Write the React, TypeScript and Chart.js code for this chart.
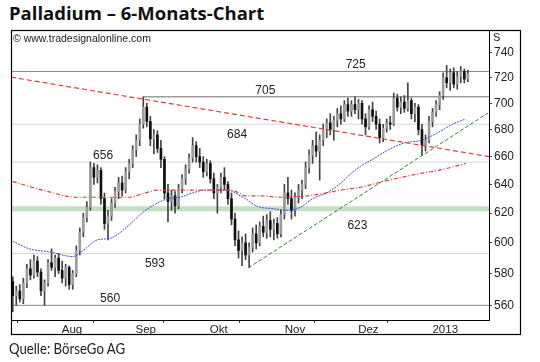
import React, { useEffect, useRef } from "react";
import { Chart, registerables } from "chart.js";

Chart.register(...registerables);

// ---- Data ----
const openP = [
  575, 566, 569, 564, 574, 583, 579, 588, 581, 569,
  574, 587, 584, 590, 582, 577, 584, 573, 580, 595,
  607, 617, 624, 652, 645, 650, 630, 613, 618, 627,
  635, 641, 636, 649, 655, 665, 672, 684, 697, 686,
  673, 676, 666, 658, 634, 628, 632, 625, 637, 644,
  651, 659, 668, 660, 656, 649, 655, 644, 634, 638,
  645, 640, 630, 616, 602, 595, 600, 592, 597, 606,
  600, 611, 607, 615, 609, 613, 606, 619, 634, 630,
  622, 631, 636, 640, 652, 661, 668, 664, 672, 680,
  685, 680, 687, 692, 688, 699, 694, 699, 695, 700,
  688, 682, 695, 690, 684, 674, 681, 685, 684, 704,
  697, 701, 696, 702, 692, 697, 680, 668, 672, 686,
  693, 699, 706, 720, 716, 724, 715, 721, 725, 719,
];
const highP = [
  578, 572, 573, 577, 586, 589, 592, 591, 583, 576,
  589, 596, 592, 593, 588, 586, 585, 582, 598, 610,
  620, 628, 656, 655, 654, 652, 634, 622, 630, 638,
  645, 646, 652, 658, 668, 676, 688, 705, 700, 690,
  680, 679, 672, 660, 640, 636, 635, 640, 647, 654,
  662, 674, 671, 666, 660, 658, 657, 648, 640, 648,
  652, 642, 634, 620, 608, 604, 606, 600, 610, 612,
  614, 618, 619, 621, 616, 617, 622, 640, 645, 636,
  634, 640, 643, 656, 665, 672, 678, 676, 684, 688,
  692, 690, 696, 698, 702, 704, 702, 705, 703, 702,
  692, 698, 701, 694, 688, 684, 688, 690, 708, 707,
  705, 706, 716, 704, 700, 699, 684, 676, 690, 696,
  702, 709, 724, 730, 727, 728, 725, 729, 727, 726,
];
const lowP = [
  556, 560, 562, 561, 571, 576, 577, 578, 566, 560,
  572, 582, 578, 580, 574, 572, 570, 570, 578, 592,
  604, 614, 622, 640, 641, 626, 609, 602, 615, 624,
  630, 632, 634, 644, 652, 660, 668, 681, 682, 668,
  662, 663, 652, 630, 614, 622, 620, 623, 634, 640,
  648, 656, 656, 652, 645, 646, 641, 630, 620, 634,
  636, 626, 612, 598, 590, 585, 589, 584, 594, 596,
  598, 604, 603, 604, 602, 603, 604, 616, 626, 616,
  618, 627, 630, 637, 648, 655, 660, 643, 668, 674,
  676, 672, 682, 684, 686, 690, 690, 692, 688, 684,
  676, 680, 686, 680, 670, 671, 678, 680, 683, 694,
  692, 693, 694, 688, 686, 676, 661, 664, 670, 682,
  690, 695, 703, 712, 710, 712, 711, 716, 716, 717,
];
const closeP = [
  566, 569, 564, 574, 583, 579, 588, 581, 569, 574,
  587, 584, 590, 582, 577, 584, 573, 580, 595, 607,
  617, 624, 652, 645, 650, 630, 613, 618, 627, 635,
  641, 636, 649, 655, 665, 672, 684, 697, 686, 673,
  676, 666, 658, 634, 628, 632, 625, 637, 644, 651,
  659, 668, 660, 656, 649, 655, 644, 634, 638, 645,
  640, 630, 616, 602, 595, 600, 592, 597, 606, 600,
  611, 607, 615, 609, 613, 606, 619, 634, 630, 622,
  631, 636, 640, 652, 661, 668, 664, 672, 680, 685,
  680, 687, 692, 688, 699, 694, 699, 695, 700, 688,
  682, 695, 690, 684, 674, 681, 685, 684, 704, 697,
  701, 696, 702, 692, 697, 680, 668, 672, 686, 693,
  699, 706, 720, 716, 724, 715, 721, 725, 719, 723,
];

const blueMaIdx = [0, 4.8, 10.5, 17, 20, 24, 27.6, 33, 36.6, 41, 44, 47.4, 51, 54.5, 58, 61, 64.5, 66, 69, 74, 78, 81.5, 85, 89, 93, 96, 98.6, 102, 106.5, 111, 116, 120.7, 124.7, 128.4];
const blueMaVal = [601, 596, 594, 591, 595, 602, 603, 612, 620, 627, 630, 631, 634, 636, 636, 636, 632, 630, 625, 623, 622, 624, 630, 634, 641, 648, 653, 658, 665, 670, 672, 678, 684, 688];

const redMaIdx = [0, 8.5, 18, 24, 33, 37.5, 41, 47, 53.7, 59.4, 62, 66, 70, 76, 83.5, 89, 93, 98.6, 106.5, 116, 120.7, 128.4];
const redMaVal = [642, 636, 631, 631, 631, 634, 636, 636, 636, 636, 636, 632, 632, 631, 632, 634, 636, 638, 643, 648, 650, 655];

const resistIdx = [-0.5, 135];
const resistVal = [720.5, 660];
const supportIdx = [66.8, 134.7];
const supportVal = [583.7, 692.5];

const levelValues = [725, 705, 684, 656, 623, 593, 560];
const levelStartIdx = [-0.5, 37, -0.5, -0.5, -0.5, -0.5, -0.5];
const levelLabelIdx = [97.2, 71.6, 63.6, 25.6, 97.7, 40.3, 27.6];

const yTicks = [560, 580, 600, 620, 640, 660, 680, 700, 720, 740];
const monthLabels = ["Aug", "Sep", "Okt", "Nov", "Dez", "2013"];
const monthPos = [16.8, 37.7, 58.4, 80, 100.8, 122.6];
const minorTickPos = [6.5, 28.7, 47.7, 70.2, 90.9, 111.6];

const X_MIN = -0.5;
const X_MAX = 135;

export default function App() {
  const ref = useRef<HTMLCanvasElement | null>(null);

  useEffect(() => {
    if (!ref.current) return;
    const idx = closeP.map((_, i) => i);

    const levelStyles: Record<number, { color: string; width: number }> = {
      725: { color: "#8a8a8a", width: 1 },
      705: { color: "#6e6e6e", width: 1 },
      684: { color: "#d6d6d6", width: 1 },
      656: { color: "#d6d6d6", width: 1 },
      623: { color: "#c4dfc4", width: 5 },
      593: { color: "#d6d6d6", width: 1 },
      560: { color: "#8a8a8a", width: 1 },
    };

    const levelDatasets = levelValues.map((v, k) => ({
      type: "line" as const,
      data: [
        { x: levelStartIdx[k], y: v },
        { x: X_MAX, y: v },
      ],
      borderColor: levelStyles[v].color,
      borderWidth: levelStyles[v].width,
      pointRadius: 0,
      order: 20,
    }));

    const textPlugin = {
      id: "texts",
      afterDatasetsDraw(chart: any) {
        const { ctx, scales } = chart;
        const xs = scales.x;
        const ys = scales.y;
        ctx.save();
        ctx.fillStyle = "#222";
        ctx.font = "12px 'Liberation Sans', Arial, sans-serif";
        ctx.textAlign = "center";
        levelValues.forEach((v, k) => {
          const px = xs.getPixelForValue(levelLabelIdx[k]);
          const py = ys.getPixelForValue(v);
          const above = v === 725 || v === 705 || v === 656 || v === 560;
          if (above) {
            ctx.textBaseline = "alphabetic";
            ctx.fillText(String(v), px, py - 3);
          } else {
            ctx.textBaseline = "top";
            ctx.fillText(String(v), px, py + (v === 623 ? 11 : 4));
          }
        });
        ctx.restore();
      },
      afterDraw(chart: any) {
        const { ctx } = chart;
        ctx.save();
        ctx.strokeStyle = "#000";
        ctx.lineWidth = 1.2;
        ctx.strokeRect(11.5, 30.5, 509, 304);
        ctx.fillStyle = "#222";
        ctx.font = "11px 'Liberation Sans', Arial, sans-serif";
        ctx.textAlign = "left";
        ctx.textBaseline = "alphabetic";
        ctx.fillText("S", 493, 41);
        ctx.font = "10.5px 'Liberation Sans', Arial, sans-serif";
        ctx.fillText("\u00A9 www.tradesignalonline.com", 13, 42);
        ctx.restore();
      },
    };

    const chart = new Chart(ref.current, {
      type: "bar",
      data: {
        datasets: [
          ...levelDatasets,
          {
            type: "bar" as const,
            data: idx.map((i) => ({ x: i, y: [lowP[i], highP[i]] })),
            backgroundColor: "#444444",
            barThickness: 1,
            grouped: false,
            order: 6,
          } as any,
          {
            type: "bar" as const,
            data: idx.map((i) => ({ x: i, y: [openP[i], closeP[i]] })),
            backgroundColor: idx.map((i) => (closeP[i] >= openP[i] ? "#9c9c9c" : "#111111")),
            barThickness: 2,
            grouped: false,
            order: 5,
          } as any,
          {
            type: "line" as const,
            data: redMaIdx.map((x, k) => ({ x, y: redMaVal[k] })),
            borderColor: "#e23a3a",
            borderWidth: 1.2,
            borderDash: [4, 2, 1, 2],
            pointRadius: 0,
            cubicInterpolationMode: "monotone",
            order: 2,
          },
          {
            type: "line" as const,
            data: blueMaIdx.map((x, k) => ({ x, y: blueMaVal[k] })),
            borderColor: "#4848d8",
            borderWidth: 1,
            borderDash: [2, 1],
            pointRadius: 0,
            cubicInterpolationMode: "monotone",
            order: 2,
          },
          {
            type: "line" as const,
            data: resistIdx.map((x, k) => ({ x, y: resistVal[k] })),
            borderColor: "#e23c3c",
            borderWidth: 1.2,
            borderDash: [5, 3],
            pointRadius: 0,
            order: 1,
          },
          {
            type: "line" as const,
            data: supportIdx.map((x, k) => ({ x, y: supportVal[k] })),
            borderColor: "#2e8a2e",
            borderWidth: 1,
            borderDash: [4, 2],
            pointRadius: 0,
            order: 1,
          },
        ] as any,
      },
      options: {
        animation: false,
        responsive: false,
        events: [],
        layout: { padding: { left: 11, top: 30, right: 20, bottom: 28 } },
        plugins: { legend: { display: false }, tooltip: { enabled: false } },
        scales: {
          x: {
            type: "linear",
            min: X_MIN,
            max: X_MAX,
            offset: false,
            position: "bottom",
            afterBuildTicks: (scale: any) => {
              scale.ticks = [...monthPos, ...minorTickPos]
                .sort((a, b) => a - b)
                .map((v) => ({ value: v }));
            },
            afterFit: (scale: any) => {
              scale.height = 14;
            },
            grid: {
              drawOnChartArea: false,
              drawTicks: true,
              tickLength: 3,
              tickColor: (ctx: any) =>
                ctx.tick && minorTickPos.includes(ctx.tick.value) ? "#444" : "rgba(0,0,0,0)",
            },
            border: { display: true, color: "#000", width: 1 },
            ticks: {
              autoSkip: false,
              maxRotation: 0,
              padding: 0,
              color: "#222",
              font: { family: "'Liberation Sans', Arial, sans-serif", size: 11.5 },
              callback: (value: any) => {
                const k = monthPos.findIndex((p) => Math.abs(p - Number(value)) < 1e-6);
                return k >= 0 ? monthLabels[k] : "";
              },
            },
          },
          y: {
            type: "logarithmic",
            position: "right",
            min: 551,
            max: 759,
            afterBuildTicks: (scale: any) => {
              scale.ticks = yTicks.map((v) => ({ value: v }));
            },
            afterFit: (scale: any) => {
              scale.width = 31;
            },
            grid: { drawOnChartArea: false, tickLength: 3, tickColor: "#444" },
            border: { display: true, color: "#000", width: 1 },
            ticks: {
              padding: 2,
              color: "#222",
              font: { family: "'Liberation Sans', Arial, sans-serif", size: 12 },
              callback: (value: any) => String(value),
            },
          },
        },
      } as any,
      plugins: [textPlugin],
    });

    return () => chart.destroy();
  }, []);

  return (
    <div style={{ position: "fixed", left: 0, top: 0, width: 540, height: 362, background: "#fff", overflow: "hidden" }}>
      <div
        style={{
          position: "absolute",
          left: 9,
          top: 0,
          fontFamily: "'Open Sans', sans-serif",
          fontWeight: 700,
          fontSize: 18.5,
          lineHeight: "26px",
          color: "#111",
          whiteSpace: "nowrap",
        }}
      >
        Palladium – 6-Monats-Chart
      </div>
      <canvas ref={ref} width={540} height={362} style={{ position: "absolute", left: 0, top: 0, width: 540, height: 362 }} />
      <div
        style={{
          position: "absolute",
          left: 9,
          top: 337,
          fontFamily: "Lato, sans-serif",
          fontSize: 15.5,
          lineHeight: "22px",
          color: "#222",
          whiteSpace: "nowrap",
          transformOrigin: "left top",
          transform: "scaleX(0.85)",
        }}
      >
        Quelle: BörseGo AG
      </div>
    </div>
  );
}
